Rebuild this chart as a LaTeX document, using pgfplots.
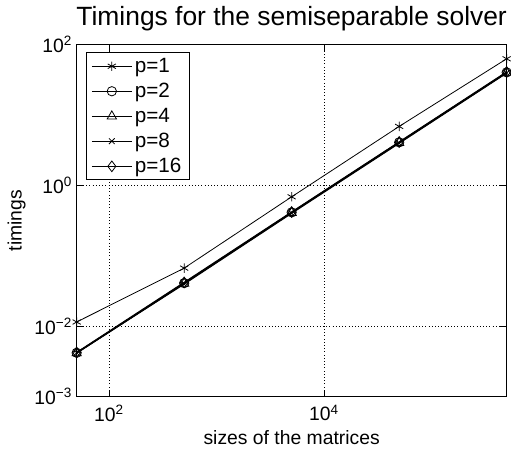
\documentclass[border=0pt]{standalone}
\usepackage{pgfplots}
\pgfplotsset{compat=1.18}
\usepackage{fontspec}
\setmainfont{Liberation Sans}
\newcommand{\lf}{\fontsize{14.5}{17}\selectfont}

\begin{document}
\begin{tikzpicture}
\begin{axis}[
  scale only axis,
  width=322.5pt,
  height=264pt,
  xmode=log,
  ymode=log,
  xmin=50, xmax=500000,
  ymin=1e-3, ymax=100,
  xtick={100,10000},
  xticklabels={10\textsuperscript{2},10\textsuperscript{4}},
  ytick={1e-3,1e-2,1,100},
  yticklabels={10\textsuperscript{−3},10\textsuperscript{−2},10\textsuperscript{0},10\textsuperscript{2}},
  tick align=inside,
  major tick length=5pt,
  minor tick length=2.5pt,
  tick style={black, line width=0.6pt},
  grid=major,
  major grid style={dotted, black, line width=0.6pt},
  axis line style={line width=0.9pt},
  ticklabel style={font=\lf},
  xticklabel style={yshift=-2.5pt},
  title={Timings for the semiseparable solver},
  title style={font=\fontsize{19.8}{22}\selectfont, at={(axis description cs:0.5,1)}, anchor=base, yshift=8pt},
  xlabel={sizes of the matrices},
  xlabel style={font=\lf, at={(axis description cs:0.5,0)}, anchor=base, yshift=-36pt},
  ylabel={timings},
  ylabel style={font=\lf, at={(axis description cs:-0.1395,0.5)}, anchor=center},
  legend cell align=left,
  legend style={font=\fontsize{15.5}{18}\selectfont, draw=black, line width=0.6pt, inner xsep=4pt, inner ysep=2pt, row sep=2.5pt, at={(axis description cs:0.021,0.978)}, anchor=north west},
  legend image code/.code={
    \draw[mark repeat=2, mark phase=2, #1, line width=0.6pt] plot coordinates {(0pt,0pt) (15pt,0pt) (30pt,0pt)};
  },
]
\addplot[black, line width=0.6pt, mark=asterisk, mark size=3.5pt, mark options={line width=0.6pt}] coordinates {
  (50,0.0115) (500,0.067) (5000,0.69) (50000,6.9) (500000,63)
};
\addlegendentry{p=1}
\addplot[black, line width=0.9pt, mark=o, mark size=3.5pt, mark options={line width=0.6pt}] coordinates {
  (50,0.0042) (500,0.041) (5000,0.415) (50000,4.1) (500000,40.4)
};
\addlegendentry{p=2}
\addplot[black, line width=0.9pt, mark=triangle, mark size=4pt, mark options={line width=0.6pt}] coordinates {
  (50,0.00415) (500,0.0405) (5000,0.41) (50000,4.05) (500000,40)
};
\addlegendentry{p=4}
\addplot[black, line width=0.9pt, mark=x, mark size=3pt, mark options={line width=0.6pt}] coordinates {
  (50,0.0042) (500,0.0398) (5000,0.403) (50000,3.98) (500000,39.5)
};
\addlegendentry{p=8}
\addplot[black, line width=0.9pt, mark=diamond, mark size=4pt, mark options={line width=0.6pt}] coordinates {
  (50,0.00425) (500,0.042) (5000,0.42) (50000,4.15) (500000,41)
};
\addlegendentry{p=16}
\end{axis}
\pgfresetboundingbox
\path (-57.5pt,-40pt) rectangle (325.75pt,297.5pt);
\end{tikzpicture}
\end{document}
